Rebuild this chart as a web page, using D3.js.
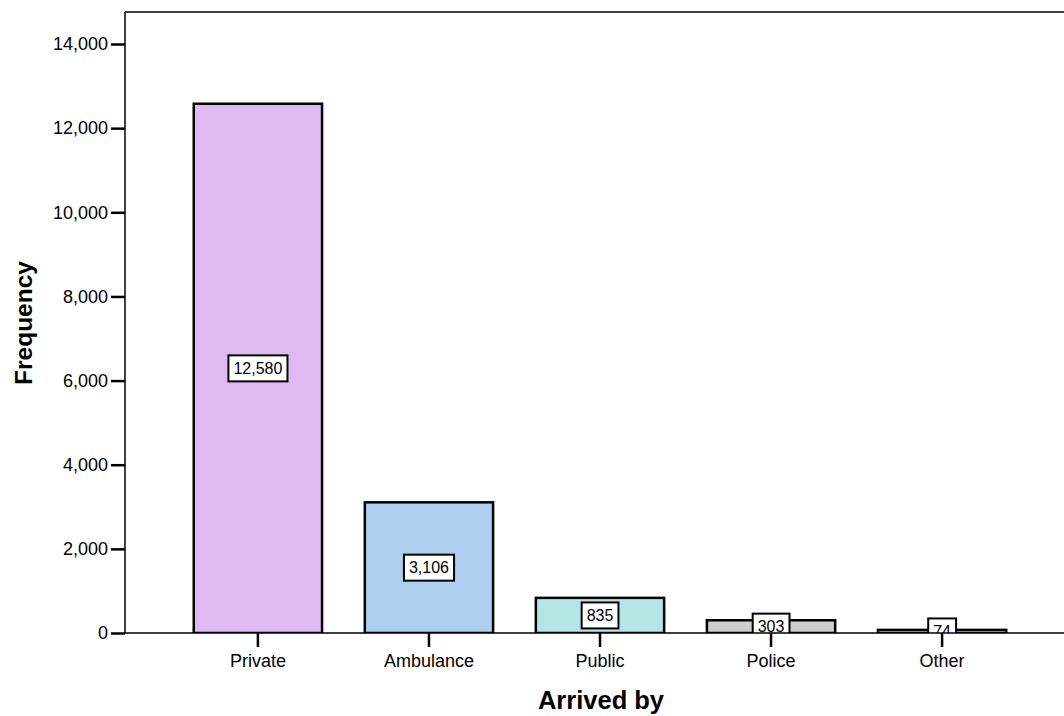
<!DOCTYPE html>
<html><head><meta charset="utf-8">
<script src="https://cdn.jsdelivr.net/npm/d3@7"></script>
<style>html,body{margin:0;padding:0;background:#fff;}svg{display:block;font-family:Arial,"Liberation Sans",sans-serif;}</style>
</head><body>
<script>
const categories = ["Private", "Ambulance", "Public", "Police", "Other"];
const frequencies = [12580, 3106, 835, 303, 74];
const barColors = ["#dfb9f2", "#aed0ee", "#b4e6e6", "#cccccc", "#e6e2a8"];
const yTicks = [0, 2000, 4000, 6000, 8000, 10000, 12000, 14000];
const xTitle = "Arrived by";
const yTitle = "Frequency";

const W = 1064, H = 716;
const mLeft = 125, mTop = 12, mBottom = 633, mRight = 1075;

const svg = d3.select("body").append("svg").attr("width", W).attr("height", H);

const y = d3.scaleLinear().domain([0, 14000]).range([mBottom, 44]);
const x = d3.scaleBand().domain(categories).range([151, 1049]).paddingInner(0.25).paddingOuter(0.25);

svg.append("defs").append("clipPath").attr("id","plotclip")
  .append("rect").attr("x", mLeft).attr("y", mTop).attr("width", mRight-mLeft).attr("height", mBottom-mTop);

svg.append("line").attr("x1", mLeft).attr("x2", mRight).attr("y1", mTop).attr("y2", mTop).attr("stroke","#000").attr("stroke-width",1.5);

const plot = svg.append("g").attr("clip-path","url(#plotclip)");

plot.selectAll("rect.bar").data(categories).enter().append("rect")
  .attr("class","bar")
  .attr("x", d => x(d))
  .attr("width", x.bandwidth())
  .attr("y", (d,i) => y(frequencies[i]))
  .attr("height", (d,i) => y(0) - y(frequencies[i]))
  .attr("fill", (d,i) => barColors[i])
  .attr("stroke", "#000").attr("stroke-width", 2.5);

const fmt = d3.format(",");
const labelG = plot.selectAll("g.lab").data(categories).enter().append("g")
  .attr("class","lab")
  .attr("transform", (d,i) => `translate(${x(d)+x.bandwidth()/2},${y(frequencies[i]/2)})`);
labelG.append("text")
  .attr("text-anchor","middle").attr("dy","0.36em")
  .attr("font-size", 16).attr("fill","#000")
  .text((d,i) => fmt(frequencies[i]));
labelG.each(function(){
  const g = d3.select(this);
  const bb = g.select("text").node().getBBox();
  g.insert("rect","text")
    .attr("x", bb.x - 5).attr("width", bb.width + 10)
    .attr("y", -13).attr("height", 26)
    .attr("fill","#fff").attr("stroke","#000").attr("stroke-width",2);
});

svg.append("line").attr("x1", mLeft).attr("x2", mRight).attr("y1", mBottom).attr("y2", mBottom).attr("stroke","#000").attr("stroke-width",1.5);
svg.append("line").attr("x1", mLeft).attr("x2", mLeft).attr("y1", mTop).attr("y2", mBottom).attr("stroke","#000").attr("stroke-width",1.5);

const yAxis = d3.axisLeft(y).tickValues(yTicks).tickFormat(d3.format(",")).tickSize(14).tickPadding(3);
const yg = svg.append("g").attr("transform", `translate(${mLeft},0)`).call(yAxis);
yg.select(".domain").remove();
yg.selectAll(".tick line").attr("stroke","#000").attr("stroke-width",2.5);
yg.selectAll(".tick text").attr("font-size", 18).attr("fill","#000").attr("font-family","Arial, 'Liberation Sans', sans-serif");

const xAxis = d3.axisBottom(x).tickSize(14).tickPadding(7);
const xg = svg.append("g").attr("transform", `translate(0,${mBottom})`).call(xAxis);
xg.select(".domain").remove();
xg.selectAll(".tick line").attr("stroke","#000").attr("stroke-width",2.5);
xg.selectAll(".tick text").attr("font-size", 18).attr("fill","#000").attr("font-family","Arial, 'Liberation Sans', sans-serif");

svg.append("text").attr("x", 601).attr("y", 709).attr("text-anchor","middle")
  .attr("font-size", 25.5).attr("font-weight","bold").text(xTitle);
svg.append("text").attr("transform","translate(32,323) rotate(-90)").attr("text-anchor","middle")
  .attr("font-size", 24.5).attr("font-weight","bold").text(yTitle);
</script>
</body></html>
